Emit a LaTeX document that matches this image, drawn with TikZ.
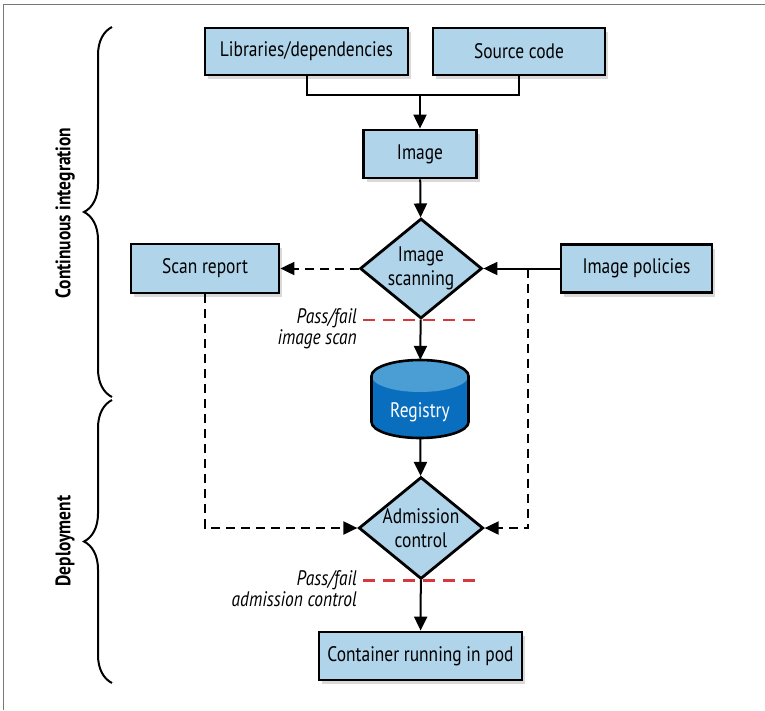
\documentclass[tikz,border=0pt]{standalone}
\usepackage{fontspec}
\setmainfont[FakeStretch=0.83]{PT Sans}
\usetikzlibrary{arrows.meta,positioning,shapes.geometric,shadows,decorations.pathreplacing}

\definecolor{boxblue}{RGB}{176,212,234}
\definecolor{regtop}{RGB}{75,158,212}
\definecolor{regbody}{RGB}{10,110,190}
\definecolor{passred}{RGB}{214,56,62}
\definecolor{framegray}{RGB}{120,120,120}

\begin{document}
\begin{tikzpicture}[
      x=1pt,
      y=-1pt,
      font=\fontsize{21}{24}\selectfont,
      box/.style={draw, line width=2.8pt, fill=boxblue, align=center, inner sep=0pt,
                  drop shadow={shadow xshift=3pt, shadow yshift=-4pt, opacity=0.3}},
      decision/.style={diamond, draw, line width=2.8pt, fill=boxblue, align=center, aspect=1.22,
                  inner sep=0pt, minimum width=122pt, minimum height=100pt},
      line/.style={line width=2pt},
      arrow/.style={line width=2pt, -{Triangle[length=14pt, width=13pt]}},
      darrow/.style={arrow, dash pattern=on 9pt off 6pt},
      passline/.style={line width=2.4pt, draw=passred, dash pattern=on 12pt off 8pt},
      passlabel/.style={font=\fontsize{21}{21}\selectfont\itshape, align=right, anchor=east, inner sep=0pt},
      phase/.style={decorate, decoration={brace, amplitude=28pt}, line width=2pt},
      phaselabel/.style={rotate=90, font=\fontsize{21}{24}\selectfont\bfseries}
  ]
  % Canvas in pixels of the original (765 x 710), y grows downwards
  \useasboundingbox (0,0) rectangle (765,710);
  \draw[framegray, line width=1pt] (3,710) -- (3,4) -- (765,4);

  % --- Build inputs ---
  \node[box, minimum width=203pt, minimum height=47pt] (lib) at (306.5,51.5) {Libraries/dependencies};
  \node[box, minimum width=172pt, minimum height=47pt] (src) at (519,51.5)   {Source code};
  \node[box, minimum width=113pt, minimum height=48pt] (img) at (420,154)    {Image};

  % --- Scanning stage ---
  \node[decision] (scan) at (421,268.5) {Image\\scanning};
  \node[box, minimum width=148pt, minimum height=49pt] (report)   at (205,268.5)   {Scan report};
  \node[box, minimum width=151pt, minimum height=48pt] (policies) at (636.5,268.5) {Image policies};

  % --- Registry (cylinder) ---
  \node[minimum width=97pt, minimum height=78pt, inner sep=0pt] (registry) at (420,399) {};
  \fill[regbody] (371.5,376) -- (371.5,422)
      arc[start angle=180, end angle=360, x radius=48.5pt, y radius=16pt] -- (468.5,376) -- cycle;
  \fill[regtop] (420,376) ellipse[x radius=48.5pt, y radius=16pt];
  \draw[line width=2.6pt] (371.5,376) arc[start angle=180, end angle=0, x radius=48.5pt, y radius=16pt]
      -- (468.5,422) arc[start angle=0, end angle=-180, x radius=48.5pt, y radius=16pt] -- cycle;
  \node[text=white] (regtext) at (420,412) {Registry};

  % --- Deployment stage ---
  \node[decision] (adm) at (421,528) {Admission\\control};
  \node[box, minimum width=203pt, minimum height=48pt] (pod) at (420.5,656) {Container running in pod};

  % --- Arrows ---
  \coordinate (join) at (420,95);
  \draw[line] (lib.south) |- (join) -| (src.south);
  \draw[arrow] (join) -- (img);
  \draw[arrow] (img) -- (scan);

  \draw[darrow] (scan) -- (report);
  \draw[arrow] (policies) -- (scan);

  \draw[arrow] (scan) -- (registry);
  \draw[arrow] (registry) -- (adm);
  \draw[arrow] (adm) -- (pod);

  % Scan report and policies feed admission control
  \coordinate (tap) at (528,268.5);
  \draw[darrow] (report.south) |- (adm.west);
  \draw[darrow] (tap) |- (adm.east);

  % Pass/fail gates
  \draw[passline] ([xshift=-58pt]scan.south) -- ([xshift=57pt]scan.south);
  \node[passlabel] (passscan) at (357,329) {Pass/fail\\image scan};
  \draw[passline] ([xshift=-58pt]adm.south) -- ([xshift=57pt]adm.south);
  \node[passlabel] (passadm) at (357,589) {Pass/fail\\admission control};

  % --- Phases ---
  \draw[phase] (112,397) -- (112,27);
  \node[phaselabel] (ci) at (65,213) {Continuous integration};
  \draw[phase] (112,683) -- (112,400);
  \node[phaselabel] (dep) at (65,541) {Deployment};

\end{tikzpicture}
\end{document}
